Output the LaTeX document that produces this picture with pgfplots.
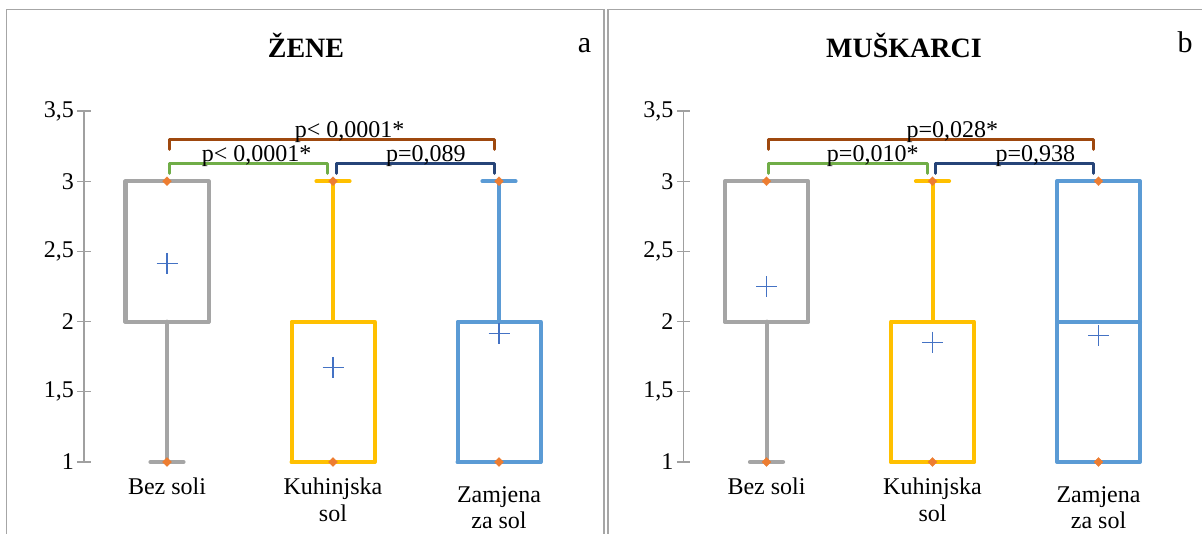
\documentclass[border=0pt]{standalone}
\usepackage{fontspec}
\setmainfont{Liberation Serif}
\usepackage{pgfplots}
\pgfplotsset{compat=1.18}
\usepgfplotslibrary{statistics}
\definecolor{boxgray}{HTML}{A5A5A5}
\definecolor{boxyellow}{HTML}{FFC000}
\definecolor{boxblue}{HTML}{5B9BD5}
\definecolor{dotorange}{HTML}{ED7D31}
\definecolor{meanblue}{HTML}{4472C4}
\definecolor{brgreen}{HTML}{70AD47}
\definecolor{brnavy}{HTML}{264478}
\definecolor{brbrown}{HTML}{9E480E}
\definecolor{framegray}{HTML}{A6A6A6}
\definecolor{axisgray}{HTML}{A0A0A0}
\newcommand{\lbl}{\fontsize{24}{27}\selectfont}
\pgfplotsset{
  panel/.style={
    scale only axis, width=498pt, height=351pt,
    anchor=south west,
    xmin=0.5, xmax=3.5, ymin=1, ymax=3.5,
    clip=false,
    axis x line=none,
    axis y line*=left,
    axis line style={axisgray, line width=1.2pt},
    ytick={1,1.5,2,2.5,3,3.5},
    xtick=\empty,
    major tick length=13pt,
    tick align=center,
    tick style={axisgray, line width=1.2pt},
    yticklabel style={font=\lbl, /pgf/number format/.cd, use comma, fixed, assume math mode=true},
    boxplot/draw direction=y,
  },
  box/.style={draw=#1, line width=4pt, line cap=round, line join=round, solid,
    /pgfplots/boxplot/box extend=0.5,
    /pgfplots/boxplot/whisker extend=0.2},
  br/.style={draw=#1, line width=3pt, line join=round, line cap=round},
  dots/.style={only marks, mark=square*, mark size=3.2pt, mark options={rotate=45, fill=dotorange, draw=dotorange, line width=0.1pt}},
  means/.style={only marks, mark=+, mark size=10.5pt, mark options={draw=meanblue, line width=1.3pt}},
}
\begin{document}
\begin{tikzpicture}[x=1pt,y=1pt]
\useasboundingbox (0,0) rectangle (1202,534);
% frames
\draw[framegray, line width=1.5pt] (6.5,-5) -- (6.5,524.5) -- (604,524.5) -- (604,-5);
\draw[framegray, line width=1.5pt] (608,-5) -- (608,524.5) -- (1215,524.5);
% titles
\node[anchor=base, font=\bfseries\fontsize{28}{30}\selectfont] at (306,476.5) {ŽENE};
\node[anchor=base, font=\bfseries\fontsize{28}{30}\selectfont] at (904,476.5) {MUŠKARCI};
\node[anchor=base, font=\fontsize{30}{32}\selectfont] at (584.5,481) {a};
\node[anchor=base, font=\fontsize{30}{32}\selectfont] at (1185,481) {b};

% ---------------- Panel a ----------------
\begin{axis}[panel, at={(84pt,72pt)}]
\addplot[box=boxgray, boxplot prepared={draw position=1, lower whisker=1, lower quartile=2, median=2, upper quartile=3, upper whisker=3}] coordinates {};
\addplot[box=boxyellow, boxplot prepared={draw position=2, lower whisker=1, lower quartile=1, median=1, upper quartile=2, upper whisker=3}] coordinates {};
\addplot[box=boxblue, boxplot prepared={draw position=3, lower whisker=1, lower quartile=1, median=1, upper quartile=2, upper whisker=3}] coordinates {};
\addplot[means] coordinates {(1,2.415) (2,1.674) (3,1.917)};
\addplot[dots] coordinates {(1,1) (1,3) (2,1) (2,3) (3,1) (3,3)};
\addplot[br=brgreen] coordinates {(1.015,3.056) (1.015,3.125) (1.967,3.125) (1.967,3.056)};
\addplot[br=brnavy] coordinates {(2.02,3.056) (2.02,3.125) (2.97,3.125) (2.97,3.056)};
\addplot[br=brbrown] coordinates {(1.015,3.227) (1.015,3.297) (2.97,3.297) (2.97,3.227)};
\node[anchor=base, font=\lbl] at (axis cs:1.54,3.14) {p< 0,0001*};
\node[anchor=base, font=\lbl] at (axis cs:2.56,3.14) {p=0,089};
\node[anchor=base, font=\lbl] at (axis cs:2.10,3.312) {p< 0,0001*};
\node[anchor=base, font=\lbl] at (axis cs:1,1) [yshift=-32.3pt] {Bez soli};
\node[anchor=base, font=\lbl] at (axis cs:2,1) [yshift=-33pt] {Kuhinjska};
\node[anchor=base, font=\lbl] at (axis cs:2,1) [yshift=-59.7pt] {sol};
\node[anchor=base, font=\lbl] at (axis cs:3,1) [yshift=-40.3pt] {Zamjena};
\node[anchor=base, font=\lbl] at (axis cs:3,1) [yshift=-67pt] {za sol};
\end{axis}

% ---------------- Panel b ----------------
\begin{axis}[panel, at={(683.5pt,72pt)}]
\addplot[box=boxgray, boxplot prepared={draw position=1, lower whisker=1, lower quartile=2, median=2, upper quartile=3, upper whisker=3}] coordinates {};
\addplot[box=boxyellow, boxplot prepared={draw position=2, lower whisker=1, lower quartile=1, median=1, upper quartile=2, upper whisker=3}] coordinates {};
\addplot[box=boxblue, boxplot prepared={draw position=3, lower whisker=1, lower quartile=1, median=2, upper quartile=3, upper whisker=3}] coordinates {};
\addplot[means] coordinates {(1,2.249) (2,1.853) (3,1.90)};
\addplot[dots] coordinates {(1,1) (1,3) (2,1) (2,3) (3,1) (3,3)};
\addplot[br=brgreen] coordinates {(1.015,3.056) (1.015,3.125) (1.967,3.125) (1.967,3.056)};
\addplot[br=brnavy] coordinates {(2.02,3.056) (2.02,3.125) (2.97,3.125) (2.97,3.056)};
\addplot[br=brbrown] coordinates {(1.015,3.227) (1.015,3.297) (2.97,3.297) (2.97,3.227)};
\node[anchor=base, font=\lbl] at (axis cs:1.64,3.14) {p=0,010*};
\node[anchor=base, font=\lbl] at (axis cs:2.62,3.14) {p=0,938};
\node[anchor=base, font=\lbl] at (axis cs:2.12,3.312) {p=0,028*};
\node[anchor=base, font=\lbl] at (axis cs:1,1) [yshift=-32.3pt] {Bez soli};
\node[anchor=base, font=\lbl] at (axis cs:2,1) [yshift=-33pt] {Kuhinjska};
\node[anchor=base, font=\lbl] at (axis cs:2,1) [yshift=-59.7pt] {sol};
\node[anchor=base, font=\lbl] at (axis cs:3,1) [yshift=-40.3pt] {Zamjena};
\node[anchor=base, font=\lbl] at (axis cs:3,1) [yshift=-67pt] {za sol};
\end{axis}
\end{tikzpicture}
\end{document}
